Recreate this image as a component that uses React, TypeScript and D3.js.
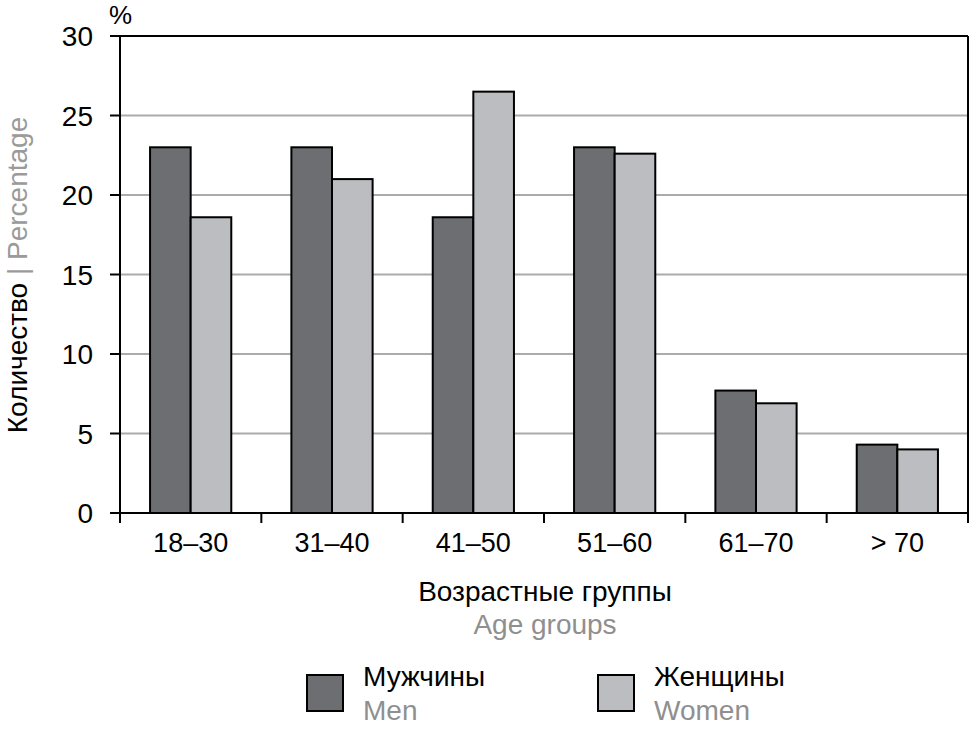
import React from "react";
import * as d3 from "d3";

const categories = ["18–30", "31–40", "41–50", "51–60", "61–70", "> 70"];
const men = [23.0, 23.0, 18.6, 23.0, 7.7, 4.3];
const women = [18.6, 21.0, 26.5, 22.6, 6.9, 4.0];
const yTicks = [0, 5, 10, 15, 20, 25, 30];
const seriesNames = ["Мужчины", "Женщины"];
const seriesNamesEn = ["Men", "Women"];
const colors = ["#6d6e71", "#bcbdc0"];

const W = 970, H = 730;
const left = 120, right = 968, top = 36, bottom = 513;
const FONT = "'Liberation Sans', Arial, sans-serif";

export default function App() {
  const x = d3.scaleBand<string>().domain(categories).range([left, right]).paddingInner(0).paddingOuter(0);
  const inner = d3.scaleBand<number>().domain([0, 1]).range([0, x.bandwidth()]).paddingInner(0).paddingOuter(0.74);
  const y = d3.scaleLinear().domain([0, 30]).range([bottom, top]);
  const series = [men, women];
  const boundaries = categories.map((c) => x(c)!).concat([right]);

  return (
    <svg width={W} height={H} style={{ position: "absolute", left: 0, top: 0, fontFamily: FONT }}>
      <rect x={0} y={0} width={W} height={H} fill="#fff" />
      {yTicks.filter((t) => t > 0 && t < 30).map((t) => (
        <line key={"g" + t} x1={left} x2={right} y1={y(t)} y2={y(t)} stroke="#ababab" strokeWidth={2} />
      ))}
      {series.map((vals, si) =>
        vals.map((v, i) => (
          <rect key={si + "-" + i}
            x={x(categories[i])! + inner(si)!}
            y={y(v)}
            width={inner.bandwidth()}
            height={bottom - y(v)}
            fill={colors[si]} stroke="#000" strokeWidth={2} />
        ))
      )}
      <line x1={left - 10} x2={right} y1={top} y2={top} stroke="#000" strokeWidth={2} />
      <line x1={left - 10} x2={right} y1={bottom} y2={bottom} stroke="#000" strokeWidth={2} />
      <line x1={left} x2={left} y1={top} y2={bottom + 10} stroke="#000" strokeWidth={2} />
      <line x1={right} x2={right} y1={top} y2={bottom + 10} stroke="#000" strokeWidth={2} />
      {yTicks.map((t) => (
        <g key={"t" + t}>
          <line x1={left - 10} x2={left} y1={y(t)} y2={y(t)} stroke="#000" strokeWidth={2} />
          <text x={93} y={y(t) + 10} textAnchor="end" fontSize={28} fill="#000">{t}</text>
        </g>
      ))}
      {boundaries.map((b, i) => (
        <line key={"xt" + i} x1={b} x2={b} y1={bottom} y2={bottom + 10} stroke="#000" strokeWidth={2} />
      ))}
      {categories.map((c) => (
        <text key={c} x={x(c)! + x.bandwidth() / 2} y={552} textAnchor="middle" fontSize={27} fill="#000">{c}</text>
      ))}
      <text x={109} y={24} fontSize={26} fill="#000">%</text>
      <text transform={`translate(27, 275) rotate(-90)`} textAnchor="middle" fontSize={28}>
        <tspan fill="#000">Количество </tspan>
        <tspan fill="#9a9a9a">| Percentage</tspan>
      </text>
      <text x={545} y={601} textAnchor="middle" fontSize={28} fill="#000">Возрастные группы</text>
      <text x={545} y={634} textAnchor="middle" fontSize={28} fill="#8f8f8f">Age groups</text>
      {seriesNames.map((n, i) => {
        const lx = [307, 598][i];
        return (
          <g key={n}>
            <rect x={lx} y={675} width={36} height={36} fill={colors[i]} stroke="#000" strokeWidth={2} />
            <text x={lx + 56} y={686} fontSize={28} fill="#000">{n}</text>
            <text x={lx + 56} y={720} fontSize={28} fill="#8f8f8f">{seriesNamesEn[i]}</text>
          </g>
        );
      })}
    </svg>
  );
}
